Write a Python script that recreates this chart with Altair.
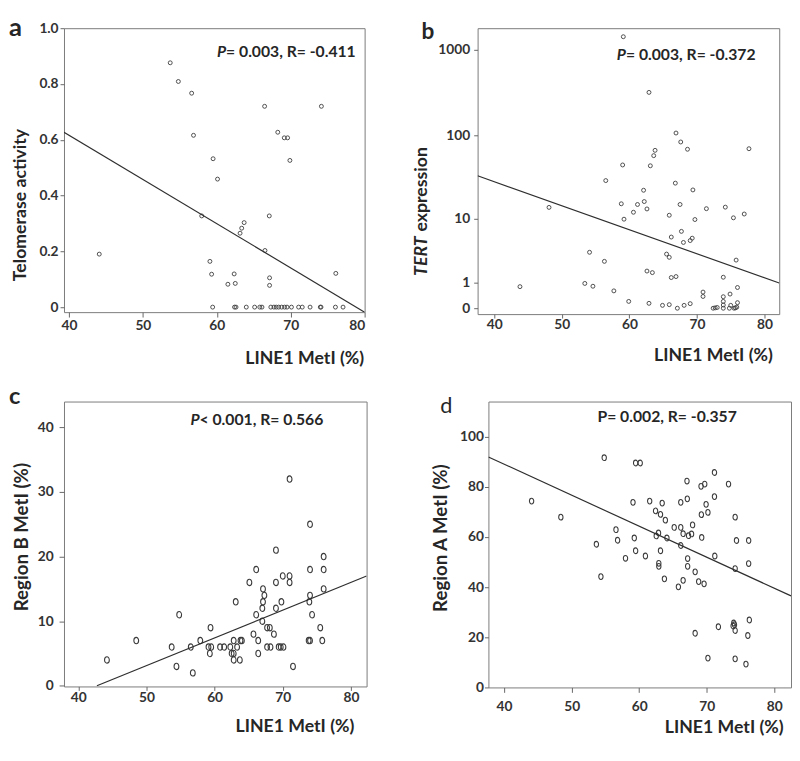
import altair as alt
import pandas as pd

FONT = "Lato"
TXT = "#262626"
PT = "#3c3c3c"
LC = "#2e2e2e"

# ---------------- panel a : telomerase activity ----------------
a_x = [44.1, 53.7, 54.8, 56.6, 56.85, 57.96, 59.5, 60.1, 59.07, 59.3, 61.5, 62.35, 62.5,
       63.15, 63.37, 63.7, 66.47, 66.52, 67.1, 67.14, 67.14, 68.25, 69.13, 69.58, 69.89,
       74.15, 76.1,
       59.44, 62.4, 62.6, 63.99, 65.12, 65.82, 66.11, 67.31, 67.73, 68.04, 68.37, 68.77,
       69.17, 69.5, 70.1, 71.07, 71.56, 72.62, 74.0, 74.1, 76.05, 77.08]
a_y = [0.19, 0.876, 0.809, 0.767, 0.616, 0.327, 0.532, 0.459, 0.164, 0.118, 0.082, 0.119, 0.085,
       0.265, 0.283, 0.303, 0.72, 0.203, 0.327, 0.105, 0.078, 0.627, 0.607, 0.607, 0.526,
       0.72, 0.121,
       0, 0, 0, 0, 0, 0, 0, 0, 0, 0, 0, 0,
       0, 0, 0, 0, 0, 0, 0, 0, 0, 0]
a_line_x = [39.33, 80.0]
a_line_y = [0.627, -0.018]

# ---------------- panel b : TERT expression ----------------
b_x = [43.8, 48.1, 53.4, 54.1, 54.6, 56.3, 56.5, 57.7, 58.8, 59.0, 59.1, 59.2, 59.9, 60.6,
       61.2, 62.1, 62.2, 62.6, 62.6, 62.9, 62.9, 63.1, 63.4, 63.6, 63.8, 64.9, 65.5, 65.9,
       65.9, 65.9, 66.2, 66.2, 66.9, 66.9, 66.8, 67.1, 67.5, 67.6, 67.7, 68.0, 68.1, 68.6,
       69.0, 69.0, 69.4, 69.3, 69.7, 70.9, 70.9, 71.4, 72.4, 72.7, 73.0, 73.9, 73.9, 73.9,
       73.9, 73.9, 74.2, 74.9, 75.0, 74.8, 75.4, 75.5, 75.7, 75.9, 76.0, 76.0, 75.8, 77.0,
       77.7]
b_y = [0.78, 13.8, 0.94, 3.46, 0.80, 2.5, 29.3, 0.59, 15.3, 45, 1415, 9.8, 0.2, 12.0,
       15.0, 22.4, 16.3, 13.2, 1.7, 319, 0.14, 44, 1.59, 58, 67, 0.08, 3.25, 2.9,
       11.0, 0.1, 5.7, 1.27, 107, 1.33, 27.3, 0, 15.0, 84, 6.8, 4.8, 0.08, 69,
       5.1, 0.13, 22.6, 5.5, 9.7, 0.54, 0.37, 13.3, 0, 0.01, 0.02, 1.29, 0.36, 0.2,
       0.09, 0, 13.9, 0.46, 0.08, 0, 10.2, 0, 0.01, 0.03, 0.16, 0.74, 2.62, 11.4,
       70]
b_line_x = [37.53, 82.18]
b_line_y = [33.5, 0.96]

# ---------------- panel c : region B methylation ----------------
c_x = [44.2, 48.5, 53.7, 54.4, 54.8, 56.5, 56.8, 57.9, 59.1, 59.5, 59.3, 59.4, 60.8, 61.4,
       62.3, 62.5, 62.8, 62.8, 62.8, 63.1, 63.3, 63.7, 63.8, 64.0, 65.1, 65.7, 66.1, 66.1,
       66.4, 66.4, 67.0, 67.1, 67.3, 67.1, 67.0, 67.7, 68.1, 67.7, 68.2, 68.7, 69.0, 69.0,
       69.0, 69.4, 69.7, 70.1, 69.8, 70.0, 71.0, 71.0, 71.0, 71.5, 73.8, 74.0, 74.0, 74.0,
       73.9, 74.0, 74.3, 75.5, 75.8, 76.0, 76.0, 76.0]
c_y = [4, 7, 6, 3, 11, 6, 2, 7, 6, 6, 5, 9, 6, 6,
       6, 5, 5, 4, 7, 13, 6, 4, 7, 7, 16, 8, 18, 11,
       7, 5, 12, 15, 14, 13, 10, 9, 9, 6, 6, 8, 21, 16,
       12, 6, 6, 6, 13, 17, 32, 17, 16, 3, 7, 7, 25, 18,
       13, 14, 11, 9, 7, 20, 18, 15]
c_line_x = [42.73, 82.3]
c_line_y = [0.0, 17.0]

# ---------------- panel d : region A methylation ----------------
d_x = [44.07, 48.4, 53.66, 54.33, 54.82, 56.56, 56.8, 57.97, 59.08, 59.27, 59.47, 59.47,
       60.15, 60.92, 61.55, 62.42, 62.52, 62.86, 62.9, 62.9, 63.15, 63.15, 63.4, 63.73,
       63.87, 64.1, 65.18, 65.8, 66.15, 66.15, 66.15, 66.5, 66.5, 67.07, 67.12, 67.17,
       67.17, 67.3, 67.75, 67.9, 68.28, 68.28, 68.8, 69.15, 69.2, 69.25, 69.6, 69.7,
       69.9, 70.17, 70.17, 71.14, 71.14, 71.19, 71.72, 73.22, 73.9, 74.0, 74.1, 74.2,
       74.2, 74.2, 74.2, 74.4, 75.8, 76.08, 76.2, 76.2, 76.3]
d_y = [74.3, 67.9, 57.1, 44.2, 91.6, 62.9, 58.7, 51.5, 73.8, 59.6, 54.5, 89.5,
       89.5, 52.4, 74.3, 70.4, 60.4, 61.6, 49.5, 48.3, 69.0, 54.5, 73.5, 43.3,
       66.7, 59.6, 63.8, 40.1, 73.8, 63.8, 56.6, 61.3, 42.7, 82.3, 75.2, 51.4,
       48.3, 60.5, 61.2, 64.8, 46.1, 21.6, 42.2, 80.2, 68.9, 59.8, 41.3, 81.1,
       73.0, 69.8, 11.7, 85.7, 76.1, 52.4, 24.2, 81.1, 24.5, 25.7, 25.0, 22.7,
       67.9, 47.4, 11.4, 58.6, 9.3, 20.7, 58.6, 49.4, 26.9]
d_line_x = [37.68, 82.47]
d_line_y = [91.9, 36.5]

x_ticks = [40, 50, 60, 70, 80]
x_title = "LINE1 MetI (%)"

ELLIPSE = "M-0.75,0 A0.75,1 0 1,0 0.75,0 A0.75,1 0 1,0 -0.75,0 Z"


def txt(s, x, y, size, weight="bold", style="normal", align="left", angle=0,
        baseline="alphabetic", color=TXT):
    return alt.Chart(pd.DataFrame({"t": [s]})).mark_text(
        align=align, baseline=baseline, angle=angle, font=FONT, fontSize=size,
        fontWeight=weight, fontStyle=style, color=color
    ).encode(x=alt.value(x), y=alt.value(y), text="t:N")


def panel(xs, ys, lx, ly, xdom, yscale, yaxis_kw, xaxis_kw, w, h, shape, size, sw, texts):
    x_enc = alt.X("x:Q", scale=alt.Scale(domain=xdom, nice=False, zero=False),
                  axis=alt.Axis(values=x_ticks, format="d", title=x_title,
                                titleAlign="right", titleBaseline="alphabetic", **xaxis_kw))
    y_enc = alt.Y("y:Q", scale=yscale, axis=alt.Axis(title=None, **yaxis_kw))
    pts = alt.Chart(pd.DataFrame({"x": xs, "y": ys})).mark_point(
        shape=shape, size=size, filled=False, color=PT, strokeWidth=sw, opacity=1, clip=True
    ).encode(x=x_enc, y=y_enc)
    line = alt.Chart(pd.DataFrame({"x": lx, "y": ly})).mark_line(
        color=LC, strokeWidth=1.2, clip=True
    ).encode(x=x_enc, y=y_enc)
    return alt.layer(pts, line, *texts).properties(width=w, height=h)


# panel a
WA, HA = 306, 289
pa = panel(
    a_x, a_y, a_line_x, a_line_y, [39.33, 80],
    alt.Scale(domain=[-0.018, 1.0], nice=False, zero=False),
    dict(values=[0, 0.2, 0.4, 0.6, 0.8, 1.0], tickSize=4, labelPadding=2,
         labelExpr="datum.value == 0 ? '0' : format(datum.value, '.1f')"),
    dict(tickSize=5, labelPadding=2, titleX=WA - 1, titleY=52),
    WA, HA, "circle", 16, 0.9,
    [txt("a", -56, 8, 26),
     txt("Telomerase activity", -44, 180, 18, angle=270, align="center", baseline="middle"),
     txt("P", 165, 29, 16, style="italic", align="right"),
     txt("= 0.003, R= -0.411", 165, 29, 16)],
)

# panel b
WB, HB = 307, 291
pb = panel(
    b_x, b_y, b_line_x, b_line_y, [37.53, 82.18],
    alt.Scale(type="symlog", constant=1, domain=[-0.17, 1777], nice=False, zero=False),
    dict(values=[0, 1, 10, 100, 1000], format="d", tickSize=4, labelPadding=4),
    dict(tickSize=4, labelPadding=0, titleX=WB - 7, titleY=47),
    WB, HB, "circle", 16, 0.9,
    [txt("b", -57, 11, 23),
     txt("TERT", -57, 212, 18, style="italic", align="right", angle=270, baseline="middle"),
     txt("expression", -57, 207, 18, align="left", angle=270, baseline="middle"),
     txt("P", 151, 32, 16, style="italic", align="right"),
     txt("= 0.003, R= -0.372", 151, 32, 16)],
)

# panel c
WC, HC = 308, 290
pc = panel(
    c_x, c_y, c_line_x, c_line_y, [37.9, 82.3],
    alt.Scale(domain=[-0.1, 44], nice=False, zero=False),
    dict(values=[0, 10, 20, 30, 40], tickSize=5, labelPadding=6),
    dict(tickSize=4, labelPadding=0, titleX=WC - 13, titleY=46),
    WC, HC, ELLIPSE, 42, 1.1,
    [txt("c", -56, 3, 24),
     txt("Region B MetI (%)", -43, 138, 19, angle=270, align="center", baseline="middle"),
     txt("P", 138, 24, 16, style="italic", align="right"),
     txt("< 0.001, R= 0.566", 138, 24, 16)],
)

# panel d
WD, HD = 308, 291
pd_ = panel(
    d_x, d_y, d_line_x, d_line_y, [37.68, 82.47],
    alt.Scale(domain=[0, 114], nice=False, zero=False),
    dict(values=[0, 20, 40, 60, 80, 100], tickSize=4, labelPadding=1),
    dict(tickSize=5, labelPadding=7, titleX=WD - 8, titleY=46),
    WD, HD, ELLIPSE, 34, 1.1,
    [txt("d", -49, 12, 22, weight="normal"),
     txt("Region A MetI (%)", -48, 139, 19, angle=270, align="center", baseline="middle"),
     txt("P= 0.002, R= -0.357", 111, 21, 16)],
)

row1 = alt.hconcat(pa, pb, spacing=115, bounds="flush")
row2 = alt.hconcat(pc, pd_, spacing=124, bounds="flush")

chart = alt.vconcat(row1, row2, spacing=17).properties(
    padding=0
).configure_view(
    stroke="#7a7a7a", strokeWidth=1
).configure_axis(
    domain=False, grid=False, tickColor="#666666", tickWidth=1,
    labelFont=FONT, labelFontSize=14, labelFontWeight="bold", labelColor="#333333",
    titleFont=FONT, titleFontSize=18, titleFontWeight="bold", titleColor=TXT,
)

chart.save("out.html", embed_options={"renderer": "svg", "actions": False})
